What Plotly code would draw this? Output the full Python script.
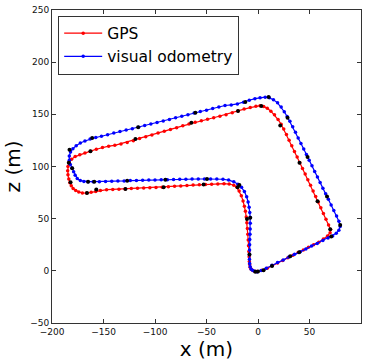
import plotly.graph_objects as go

# GPS trajectory (x, z) in metres
gps_x = [-1, 4, 9, 14, 19, 24, 29, 34, 39, 44, 49, 54, 59, 63.5, 67.5, 70, 70.5,
         68.5, 66, 63.5, 61, 58.6, 56, 53.5, 51, 48.4, 45.8, 43.2, 40.6, 38, 35.4, 32.8, 30.2, 27.6, 25, 22.5, 19.5, 16, 12.5, 9, 5.5, 2,
         -2, -7.5, -13.5, -19.4, -25, -31, -37, -43, -49, -55, -61, -67, -73, -79, -85, -91, -97, -103, -109, -115, -121, -127, -133, -139, -145, -151, -157, -162.7, -168, -173, -177.5, -181, -183.5,
         -184.5, -184.8, -184.5, -183.7, -182.7, -181.3, -179.5, -177, -174, -170.5, -166.5, -162, -157.5, -153,
         -147, -141, -135, -129, -123, -117, -111, -105, -99, -93, -87, -81, -75, -69, -63, -57, -51, -45, -39, -33, -28, -23.5, -20.5,
         -18.3, -16.2, -14.5, -13.2, -12.2, -11.4, -10.8, -10.3, -9.9, -9.5, -9.2, -8.9, -8.6, -8.4, -8.1, -7.6, -6.8, -5.4, -3.5, -1]
gps_z = [-0.6, 0.5, 2.5, 5, 7.5, 10, 12.6, 15, 17.5, 20, 22.5, 25, 27.5, 30.5, 33.5, 36.5, 39.5,
         44, 49.5, 55, 60.5, 66, 71.3, 76.6, 82, 87.4, 92.8, 98.2, 103.6, 109, 114.4, 119.8, 125.2, 130.6, 136, 140.5, 145, 149.5, 153, 155.8, 157.6, 158.3,
         157.7, 156.5, 155, 153.3, 151.5, 149.6, 148.2, 146.7, 145.3, 143.8, 142.5, 140.8, 139, 137.2, 135.5, 133.7, 132, 130.3, 128.5, 126.8, 124.8, 123, 121.5, 120.3, 119.5, 118.2, 116.5, 114.7, 113, 111.3, 109.5, 107, 104,
         100, 96, 92, 88, 84.5, 81.5, 79, 77, 75.5, 74.7, 74.5, 75.2, 76, 77,
         77.8, 78, 78.3, 78.5, 78.8, 79.1, 79.4, 79.7, 79.9, 80.2, 80.6, 81, 81.4, 81.8, 82.2, 82.5, 82.8, 83, 83.3, 83.5, 83.2, 82, 80,
         76.5, 72, 67, 62, 57, 51.5, 46, 40.5, 35, 29.5, 24, 18.5, 13.5, 9, 6, 3.5, 1.8, 0.5, -0.3, -0.6]

# Visual odometry trajectory (x, z) in metres
vo_x = [-1, 3, 8, 13.5, 19, 24.5, 30, 35.5, 41, 46.5, 52, 57.5, 63, 68, 72.5, 76, 78.5, 79.8,
        78.5, 76.3, 73.6, 71, 68.3, 65.7, 63, 60.3, 57.7, 55, 52.4, 49.7, 47, 44.4, 41.7, 39, 36.4, 33.7, 31, 28.3, 25.5, 22.5, 19, 15, 11, 7,
        2, -3, -8.5, -14, -20, -26, -32, -38, -44, -50, -56, -62, -68, -74, -80, -86, -92, -98, -104, -110, -116, -122, -128, -134, -140, -146, -152, -157.5, -163, -168, -172.5, -176.5, -179.7, -182,
        -183.2, -183.2, -182.2, -180.6, -179, -177.5, -175.5, -172.5, -169, -165, -160,
        -154, -148, -142, -136, -130, -124, -118, -112, -106, -100, -94, -88, -82, -76, -70, -64, -58, -52, -46, -40, -34, -28.5, -23.5, -19.5,
        -16, -13.2, -11, -9.6, -8.6, -8, -7.6, -7.5, -7.6, -7.8, -8, -8.1, -8.2, -8.3, -8.3, -8.1, -7.6, -6.6, -5, -3, -0.5]
vo_z = [-0.8, 0.3, 2.5, 5.3, 8, 10.5, 13.2, 15.8, 18.2, 21, 23.7, 26.3, 29, 31.5, 33.5, 36, 39, 42.5,
        47.5, 52.5, 57.8, 63.2, 68.5, 73.9, 79.2, 84.6, 90, 95.3, 100.6, 106, 111.4, 116.7, 122, 127.4, 132.8, 138, 143.4, 148, 152.5, 157, 161, 164, 165.8, 166.4,
        166, 165, 163.5, 161.5, 160, 159, 158.5, 157, 155.5, 154, 152.7, 151.2, 149.7, 148.2, 146.7, 145, 143.6, 142.2, 140.7, 139.2, 137.7, 136.3, 135, 133.5, 132, 130.5, 129, 127.8, 126.3, 124.5, 122.5, 120, 117, 114,
        110, 106, 102, 98.5, 95, 91.5, 88.5, 86.5, 85.7, 85.5, 85.5,
        85.5, 85.6, 85.8, 86, 86.2, 86.5, 86.7, 86.8, 87, 87.1, 87.3, 87.4, 87.6, 87.7, 87.8, 87.9, 88, 88, 88, 88, 87.8, 87, 85.3, 83,
        80, 76, 71, 66, 61, 56, 51, 45.5, 40, 35, 30, 25, 20, 15.5, 11, 7, 3.8, 1.5, 0.3, -0.5, -0.9]

# Black keyframe markers
key_x = [0, -2.6, 5.4, 13.6, 31.3, 40, 70.1, 71.1, 79.8, 67, 57.8, 48.1, 40.3, 28.7, 21.6, 10.3, 3.2,
         -12.3, -19.4, -60.8, -64.7, -116.4, -119, -161, -162.7, -183, -183.7, -180.4, -182, -166, -157,
         -165, -159, -128.7, -127, -91.6, -89.9, -52.8, -49.5, -19.8, -18.1, -10.7, -7.5, -8.3]
key_z = [-0.6, -0.9, 0.6, 4.7, 14, 17.9, 39.9, 33, 44, 71.3, 66.6, 109, 103.7, 146.7, 139.2, 166.5, 158,
         161.8, 153.3, 151.5, 142, 137.6, 126.3, 127.2, 114.7, 116, 103.7, 98.3, 84.8, 74.5, 78,
         85.5, 85.5, 78.5, 86.4, 80.1, 87.4, 82.7, 88, 80.1, 82.3, 49.7, 50.9, 15.7]

x_ticks = [-200, -150, -100, -50, 0, 50, 100]
z_ticks = [-50, 0, 50, 100, 150, 200, 250]

FONT = "DejaVu Sans"

fig = go.Figure()
fig.add_trace(go.Scatter(x=gps_x, y=gps_z, mode="lines+markers", name="GPS",
                         line=dict(color="#ff0000", width=1.2),
                         marker=dict(color="#ff0000", size=3.5)))
fig.add_trace(go.Scatter(x=vo_x, y=vo_z, mode="lines+markers", name="visual odometry",
                         line=dict(color="#0000ff", width=1.2),
                         marker=dict(color="#0000ff", size=3.5)))
fig.add_trace(go.Scatter(x=key_x, y=key_z, mode="markers", showlegend=False,
                         marker=dict(color="black", size=4)))

axis_common = dict(showgrid=False, zeroline=False, showline=True, linecolor="#333",
                   linewidth=1, mirror="ticks", ticks="inside", ticklen=4,
                   tickcolor="#333", tickfont=dict(family=FONT, size=9, color="#111"))

fig.update_layout(
    width=369, height=362,
    margin=dict(l=52, r=8, t=5, b=39),
    paper_bgcolor="white", plot_bgcolor="white",
    font=dict(family=FONT, color="black"),
    xaxis=dict(range=[-200, 100], tickvals=x_ticks,
               title=dict(text="x (m)", font=dict(family=FONT, size=20), standoff=2),
               **axis_common),
    yaxis=dict(range=[-50, 250], tickvals=z_ticks,
               title=dict(text="z (m)", font=dict(family=FONT, size=20), standoff=4),
               **axis_common),
    legend=dict(x=0.02, y=0.982, xanchor="left", yanchor="top",
                bgcolor="white", bordercolor="#333", borderwidth=1,
                itemwidth=38,
                font=dict(family=FONT, size=15.5), tracegroupgap=0),
    showlegend=True,
)

fig.write_html("out.html")
